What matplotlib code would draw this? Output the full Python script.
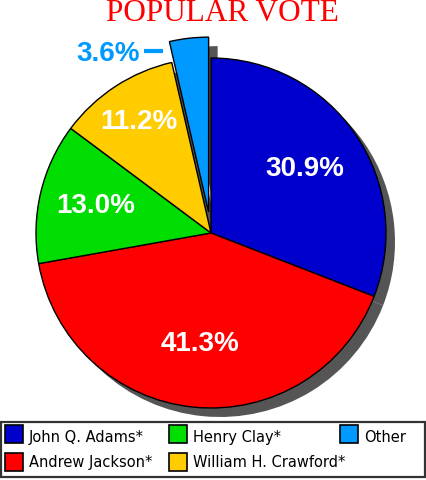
import matplotlib
matplotlib.use("Agg")
import matplotlib.pyplot as plt
from matplotlib.patches import Rectangle
import numpy as np

# ---- data ----
candidates = ["John Q. Adams*", "Andrew Jackson*", "Henry Clay*",
              "William H. Crawford*", "Other"]
popular_vote = [30.9, 41.3, 13.0, 11.2, 3.6]
pct_labels = ["30.9%", "41.3%", "13.0%", "11.2%", "3.6%"]
title_text = "POPULAR VOTE"

# ---- style ----
colors = ["#0000cc", "#ff0000", "#00dd00", "#ffcc00", "#0099ff"]
label_dist = [0.65, 0.64, 0.675, 0.755]
W, H = 426, 480


def py(y):
    return H - y


fig = plt.figure(figsize=(W / 100, H / 100), dpi=100)
ax = fig.add_axes([0, 0, 1, 1])

cx, cy, R = 211, py(233), 175
explode = [0, 0, 0, 0, 21]
sh = 9

# shadow
ax.pie(popular_vote, colors=["#555555"] * len(popular_vote), startangle=90,
       counterclock=False, radius=R, center=(cx + sh, cy - sh), explode=explode,
       wedgeprops=dict(linewidth=0), frame=True)
# main pie
wedges, _ = ax.pie(popular_vote, colors=colors, startangle=90, counterclock=False,
                   radius=R, center=(cx, cy), explode=explode,
                   wedgeprops=dict(edgecolor="black", linewidth=1.0), frame=True)

ax.set_xlim(0, W)
ax.set_ylim(0, H)
ax.set_aspect("auto")
ax.axis("off")

lab_font = dict(family="Liberation Sans", weight="bold", size=20)
for i, w in enumerate(wedges[:4]):
    th = np.deg2rad((w.theta1 + w.theta2) / 2)
    x = w.center[0] + label_dist[i] * R * np.cos(th)
    y = w.center[1] + label_dist[i] * R * np.sin(th)
    ax.text(x, y, pct_labels[i], color="white", ha="center", va="center", **lab_font)

# Other label with leader dash
ax.text(140, py(54), pct_labels[4], color=colors[4], ha="right", va="center", **lab_font)
ax.plot([144, 163], [py(51), py(51)], color=colors[4], lw=3, solid_capstyle="butt")

# title
ax.text(222.5, py(21), title_text, color="#ff0000", ha="center", va="baseline",
        family="Liberation Serif", size=22.5)

# legend box
ax.add_patch(Rectangle((1, py(477)), 424, 55, fill=False, edgecolor="#333333",
                       lw=1.6, zorder=5))
leg_pos = [(5, 434, 442), (5, 461.5, 467), (169, 434, 442), (169, 461.5, 467),
           (340, 434, 442)]
for (lx, ly, lb), name, col in zip(leg_pos, candidates, colors):
    ax.add_patch(Rectangle((lx, py(ly) - 9), 18, 18, facecolor=col,
                           edgecolor="black", lw=1.2, zorder=6))
    ax.text(lx + 24, py(lb), name, color="black", ha="left", va="baseline",
            family="DejaVu Sans", size=10.5, zorder=6)

fig.savefig("out.png", dpi=100)
